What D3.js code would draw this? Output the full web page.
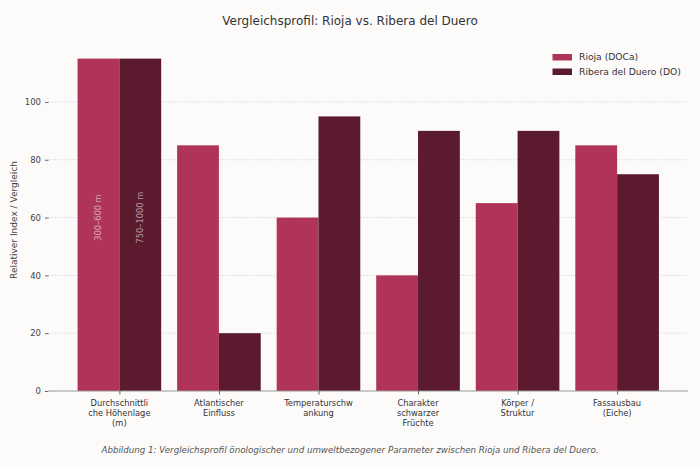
<!DOCTYPE html>
<html>
<head>
<meta charset="utf-8">
<script src="https://cdn.jsdelivr.net/npm/d3@7/dist/d3.min.js"></script>
<style>
  body { margin: 0; background: #fcfbfa; }
  svg { display: block; font-family: "DejaVu Sans", sans-serif; }
</style>
</head>
<body>
<div id="chart"></div>
<script>
var categories = [
	["Durchschnittli", "che Höhenlage", "(m)"],
	["Atlantischer", "Einfluss"],
	["Temperaturschw", "ankung"],
	["Charakter", "schwarzer", "Früchte"],
	["Körper /", "Struktur"],
	["Fassausbau", "(Eiche)"]
];
var seriesNames = ["Rioja (DOCa)", "Ribera del Duero (DO)"];
var rioja = [115, 85, 60, 40, 65, 85];
var ribera = [115, 20, 95, 90, 90, 75];
var barNotes = ["300–600 m", "750–1000 m"];
var yTicks = [0, 20, 40, 60, 80, 100];
var colors = ["#b0335a", "#5c1a2f"];

var width = 700, height = 467;
var plotL = 48.5, plotR = 688, plotT = 42, plotB = 391;

var svg = d3.select("#chart").append("svg").attr("width", width).attr("height", height);
svg.append("rect").attr("width", width).attr("height", height).attr("fill", "#fcfbfa");

var xscale = d3.scaleLinear().domain([-0.712, 5.712]).range([plotL, plotR]);
var yscale = d3.scaleLinear().domain([0, 120.75]).range([plotB, plotT]);
var bw = 0.42;

// grid
svg.selectAll(".grid").data(yTicks.slice(1)).enter().append("line")
	.attr("x1", plotL).attr("x2", plotR)
	.attr("y1", function(d){ return yscale(d); })
	.attr("y2", function(d){ return yscale(d); })
	.attr("stroke", "#cfcfcf").attr("stroke-width", 0.8)
	.attr("stroke-dasharray", "1.5,1.5");

// bars
var series = [rioja, ribera];
for (var s = 0; s < 2; s++)
{
	svg.selectAll(".bar" + s).data(series[s]).enter().append("rect")
		.attr("x", function(d, i){ return xscale(i - bw + s * bw); })
		.attr("width", function(){ return xscale(bw) - xscale(0); })
		.attr("y", function(d){ return yscale(d); })
		.attr("height", function(d){ return plotB - yscale(d); })
		.attr("fill", colors[s]);
}

// notes inside first pair
barNotes.forEach(function(t, s)
{
	var cx = xscale(-bw / 2 + s * bw);
	var cy = yscale(60);
	svg.append("text")
		.attr("transform", "translate(" + (cx + 3) + "," + cy + ") rotate(-90)")
		.attr("text-anchor", "middle")
		.attr("font-size", 8.3)
		.attr("fill", "#ffffff").attr("fill-opacity", 0.55)
		.text(t);
});

// y axis
var yAxis = d3.axisLeft(yscale).tickValues(yTicks).tickSize(3.5).tickPadding(4);
var gy = svg.append("g").attr("transform", "translate(" + plotL + ",0)").call(yAxis);
gy.select(".domain").remove();
gy.selectAll("line").attr("stroke", "#666");
gy.selectAll("text").attr("font-size", 8.5).attr("fill", "#444").attr("font-family", "DejaVu Sans");

// x axis
var xAxis = d3.axisBottom(xscale).tickValues(d3.range(categories.length)).tickSize(3.5).tickFormat("");
var gx = svg.append("g").attr("transform", "translate(0," + plotB + ")").call(xAxis);
gx.select(".domain").attr("stroke", "#999").attr("d", "M" + plotL + ",0H" + plotR);
gx.selectAll("line").attr("stroke", "#666");

categories.forEach(function(lines, i)
{
	var t = svg.append("text")
		.attr("x", xscale(i)).attr("y", 406)
		.attr("text-anchor", "middle")
		.attr("font-size", 8.3).attr("fill", "#333");
	lines.forEach(function(l, k)
	{
		t.append("tspan").attr("x", xscale(i)).attr("dy", k == 0 ? 0 : 10.2).text(l);
	});
});

// y label
svg.append("text")
	.attr("transform", "translate(17,220) rotate(-90)")
	.attr("text-anchor", "middle")
	.attr("font-size", 9).attr("fill", "#444")
	.text("Relativer Index / Vergleich");

// title
svg.append("text")
	.attr("x", 350).attr("y", 24.5)
	.attr("text-anchor", "middle")
	.attr("font-size", 12).attr("fill", "#333")
	.text("Vergleichsprofil: Rioja vs. Ribera del Duero");

// legend
seriesNames.forEach(function(n, s)
{
	var ly = 57 + s * 14.5;
	svg.append("rect").attr("x", 552.5).attr("y", ly - 3).attr("width", 19.5).attr("height", 6.5).attr("fill", colors[s]);
	svg.append("text").attr("x", 579).attr("y", ly + 3.3)
		.attr("font-size", 9.2).attr("fill", "#333").text(n);
});

// caption
svg.append("text")
	.attr("x", 350).attr("y", 453)
	.attr("text-anchor", "middle")
	.attr("font-size", 8.7).attr("font-style", "italic").attr("fill", "#555")
	.text("Abbildung 1: Vergleichsprofil önologischer und umweltbezogener Parameter zwischen Rioja und Ribera del Duero.");
</script>
</body>
</html>
